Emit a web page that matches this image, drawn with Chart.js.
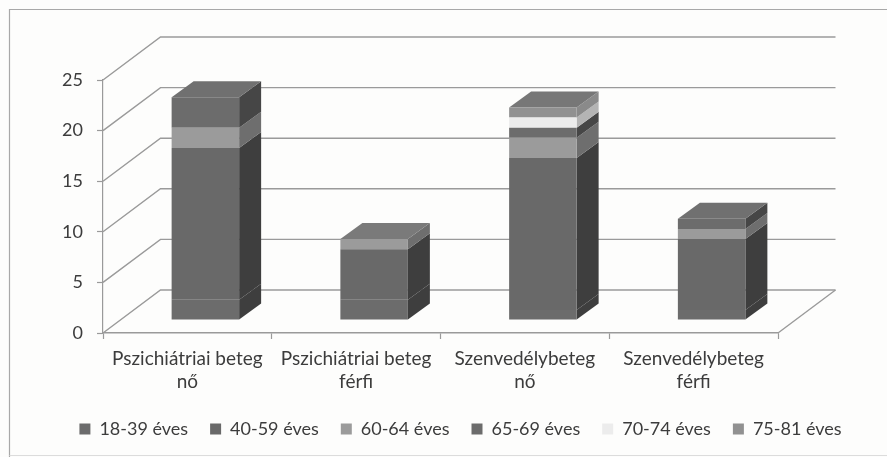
<!DOCTYPE html>
<html>
<head>
<meta charset="utf-8">
<style>html,body{margin:0;padding:0;background:#fdfdfc}canvas{display:block}</style>
<script src="https://cdn.jsdelivr.net/npm/chart.js@4"></script>
</head>
<body>
<canvas id="c" width="887" height="457"></canvas>
<script>
const categories = [["Pszichiátriai beteg","nő"],["Pszichiátriai beteg","férfi"],["Szenvedélybeteg","nő"],["Szenvedélybeteg","férfi"]];
const seriesNames = ["18-39 éves","40-59 éves","60-64 éves","65-69 éves","70-74 éves","75-81 éves"];
const age18_39 = [2,2,1,1];
const age40_59 = [15,5,15,7];
const age60_64 = [2,1,2,1];
const age65_69 = [3,0,1,1];
const age70_74 = [0,0,1,0];
const age75_81 = [0,0,1,0];
const yTicks = [0,5,10,15,20,25];
const frontColors = ["#6c6c6c","#696969","#9b9b9b","#6c6c6c","#ececec","#919191"];
const sideColors  = ["#3e3e3e","#3e3e3e","#6e6e6e","#464646","#b4b4b4","#8a8a8a"];
const topColors   = ["#6a6a6a","#6a6a6a","#7a7a7a","#707070","#b0b0b0","#777777"];
const allSeries = [age18_39,age40_59,age60_64,age65_69,age70_74,age75_81];

const wallDX = 57.5, wallDY = -43;
const barDX = 18, barDY = -13, depthX = 22, depthY = -16;
const lineCol = "#9a9a9a";

const box3d = {
  id: "box3d",
  beforeDraw(chart) {
    const ctx = chart.ctx;
    ctx.save();
    ctx.strokeStyle = "#a8a8a8"; ctx.lineWidth = 1.2;
    ctx.beginPath(); ctx.moveTo(887,9.5); ctx.lineTo(9.5,9.5); ctx.lineTo(9.5,457); ctx.stroke();
    ctx.strokeStyle = "#dcdcdc"; ctx.beginPath(); ctx.moveTo(9.5,455.5); ctx.lineTo(887,455.5); ctx.stroke();
    ctx.restore();
  },
  beforeDatasetsDraw(chart) {
    const ctx = chart.ctx, y = chart.scales.y, a = chart.chartArea;
    ctx.save();
    ctx.strokeStyle = lineCol; ctx.lineWidth = 1.4;
    yTicks.forEach(v => {
      const py = y.getPixelForValue(v);
      ctx.beginPath(); ctx.moveTo(a.left, py);
      ctx.lineTo(a.left + wallDX, py + wallDY);
      ctx.lineTo(a.right + wallDX, py + wallDY);
      ctx.stroke();
    });
    const p0 = y.getPixelForValue(0);
    ctx.beginPath(); ctx.moveTo(a.right, p0); ctx.lineTo(a.right + wallDX, p0 + wallDY); ctx.stroke();
    ctx.translate(barDX, barDY);
    chart.data.datasets.forEach((ds, i) => {
      chart.getDatasetMeta(i).data.forEach((b, j) => {
        if (!ds.data[j]) return;
        const r = b.x + b.width / 2, l = b.x - b.width / 2;
        ctx.fillStyle = sideColors[i];
        ctx.beginPath(); ctx.moveTo(r, b.y); ctx.lineTo(r + depthX, b.y + depthY);
        ctx.lineTo(r + depthX, b.base + depthY); ctx.lineTo(r, b.base); ctx.closePath(); ctx.fill();
        const isTop = !chart.data.datasets.slice(i + 1).some(d => d.data[j]);
        if (isTop) {
          ctx.fillStyle = topColors[i];
          ctx.beginPath(); ctx.moveTo(l, b.y); ctx.lineTo(l + depthX, b.y + depthY);
          ctx.lineTo(r + depthX, b.y + depthY); ctx.lineTo(r, b.y); ctx.closePath(); ctx.fill();
        }
      });
    });
  },
  afterDatasetsDraw(chart) { chart.ctx.restore(); }
};

new Chart(document.getElementById("c"), {
  type: "bar",
  data: {
    labels: categories,
    datasets: allSeries.map((d, i) => ({
      label: seriesNames[i], data: d, backgroundColor: frontColors[i],
      borderWidth: 0, barPercentage: 0.4, categoryPercentage: 1
    }))
  },
  plugins: [box3d],
  options: {
    responsive: false, animation: false,
    layout: { padding: { top: 80, left: 34, right: 0, bottom: 9 } },
    plugins: {
      tooltip: { enabled: false },
      legend: {
        position: "bottom",
        labels: { boxWidth: 11, boxHeight: 11, padding: 22, color: "#3c3c3c", font: { family: "Lato", size: 18 } }
      }
    },
    scales: {
      x: {
        stacked: true,
        border: { color: lineCol, width: 1.4 },
        grid: { display: true, drawOnChartArea: false, offset: true, color: lineCol, tickLength: 6, tickWidth: 1.2 },
        ticks: { color: "#3c3c3c", padding: 8, maxRotation: 0, autoSkip: false, font: { family: "Lato", size: 19, lineHeight: 1.21 } },
        afterFit(s) { s.height = 65; }
      },
      y: {
        stacked: true, min: 0, max: 25,
        border: { color: lineCol, width: 1.2 },
        grid: { display: true, drawOnChartArea: false, color: lineCol, tickLength: 6, tickWidth: 1.2 },
        ticks: { stepSize: 5, color: "#3c3c3c", padding: 14, font: { family: "Lato", size: 18 } },
        afterFit(s) { s.width = 69; }
      },
      rightPad: {
        type: "linear", position: "right", display: true,
        grid: { display: false }, border: { display: false }, ticks: { display: false },
        afterFit(s) { s.width = 109; }
      }
    }
  }
});
</script>
</body>
</html>
